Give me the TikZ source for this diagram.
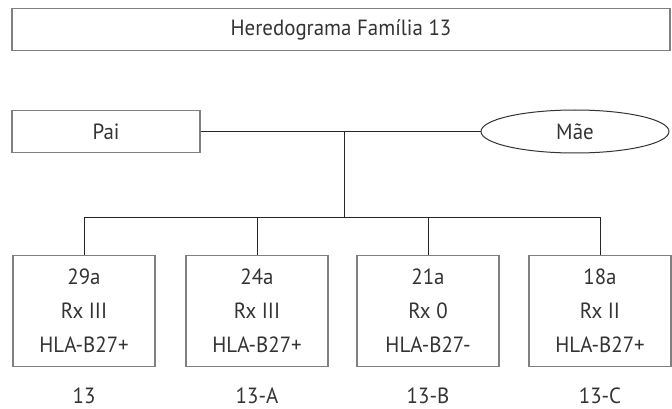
\documentclass[tikz,border=0pt]{standalone}
\usepackage{fontspec}
\setmainfont[FakeStretch=0.95]{PT Sans}
\usetikzlibrary{shapes.geometric}
\begin{document}
\begin{tikzpicture}[x=1pt,y=-1pt,
  font=\fontsize{22}{26}\selectfont,
  txt/.style={text=black!80},
  frame/.style={draw=black!50,line width=1.4pt,fill=white,inner sep=0pt,txt},
  link/.style={draw=black!85,line width=1pt}]
\useasboundingbox (0,0) rectangle (672,409);
\node[frame,minimum width=658pt,minimum height=42pt] (title) at (341,29.5) {Heredograma Família 13};
\node[frame,minimum width=188pt,minimum height=42pt] (pai) at (106,131.5) {Pai};
\node[draw=black!80,line width=1pt,ellipse,minimum width=188pt,minimum height=43pt,inner sep=0pt,txt] (mae) at (575,131.5) {Mãe};
\coordinate (j) at (344,131.5);
\coordinate (b) at (344,217);
\draw[link] (pai.east) -- (mae.west);
\draw[link] (j) -- (b);
\foreach \n/\x/\a/\r/\h/\l in {c1/84/29a/III/+/13, c2/257/24a/III/+/13-A, c3/428/21a/0/-/13-B, c4/600/18a/II/+/13-C}{
  \node[frame,minimum width=142pt,minimum height=111pt] (\n) at (\x,311) {};
  \node[txt] (\n a) at (\x,277) {\a};
  \node[txt] (\n r) at (\x,311) {Rx \r};
  \node[txt] (\n h) at (\x,345) {HLA-B27\h};
  \node[txt,inner sep=0pt] (\n l) at (\x,396) {\l};
  \coordinate (\n t) at (\x,217);
  \draw[link] (\n t) -- (\n.north);
}
\draw[link] (c1t) -- (c4t);
\end{tikzpicture}
\end{document}
